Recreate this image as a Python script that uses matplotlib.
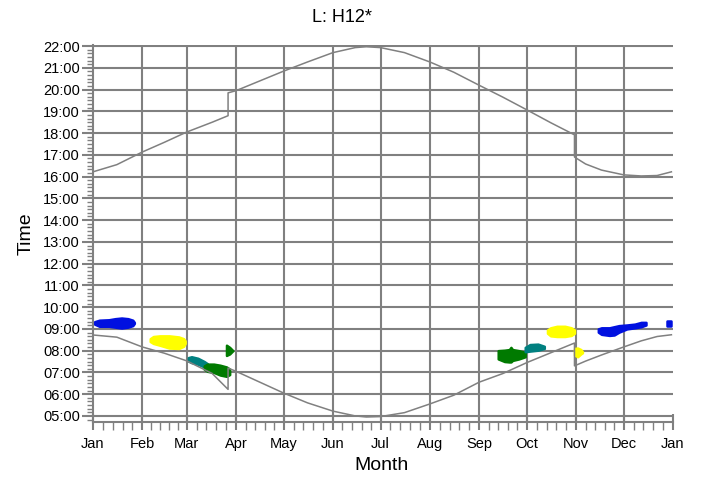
import matplotlib.pyplot as plt
from matplotlib.ticker import FixedLocator, NullFormatter

plt.rcParams['font.family'] = ['Liberation Sans', 'DejaVu Sans']

# ---------- DATA ----------
month_names = ["Jan", "Feb", "Mar", "Apr", "May", "Jun",
               "Jul", "Aug", "Sep", "Oct", "Nov", "Dec", "Jan"]
month_starts = [0, 31, 59, 90, 120, 151, 181, 212, 243, 273, 304, 334, 365]
hours = list(range(5, 23))

# sunrise / sunset (day of year, hour) incl. DST jumps
rise_days = [0, 15, 31, 45, 59, 75, 85, 85, 90, 105, 120, 135, 151, 165, 172,
             181, 196, 212, 227, 243, 258, 273, 288, 303, 303, 310, 320, 334,
             345, 355, 364]
rise_hours = [8.72, 8.62, 8.17, 7.88, 7.53, 6.95, 6.22, 7.20, 7.05, 6.55, 6.05,
              5.60, 5.22, 5.00, 4.95, 4.97, 5.15, 5.55, 5.95, 6.55, 6.95, 7.45,
              7.90, 8.35, 7.30, 7.52, 7.80, 8.17, 8.45, 8.65, 8.73]

set_days = [0, 15, 31, 45, 59, 75, 85, 85, 90, 105, 120, 135, 151, 165, 172,
            181, 196, 212, 227, 243, 258, 273, 288, 303, 303, 310, 320, 334,
            345, 355, 364]
set_hours = [16.22, 16.55, 17.13, 17.58, 18.05, 18.50, 18.80, 19.85, 19.95,
             20.40, 20.85, 21.27, 21.70, 21.93, 21.97, 21.93, 21.70, 21.27,
             20.80, 20.20, 19.65, 19.07, 18.48, 17.92, 16.90, 16.58, 16.30,
             16.08, 16.03, 16.05, 16.22]

# glare periods: day of year, upper and lower hour
blue1_days = [1, 4, 10, 14, 18, 22, 25, 26]
blue1_top = [9.33, 9.40, 9.42, 9.47, 9.50, 9.47, 9.40, 9.30]
blue1_bot = [9.22, 9.12, 9.12, 9.08, 9.04, 9.08, 9.15, 9.25]

yellow1_days = [36, 38, 42, 48, 54, 57, 58]
yellow1_top = [8.55, 8.65, 8.68, 8.68, 8.63, 8.55, 8.45]
yellow1_bot = [8.42, 8.33, 8.25, 8.12, 8.10, 8.20, 8.33]

teal1_days = [60, 62, 66, 70, 72]
teal1_top = [7.68, 7.72, 7.65, 7.50, 7.40]
teal1_bot = [7.52, 7.45, 7.38, 7.25, 7.30]

green1_days = [70, 72, 76, 80, 84, 86]
green1_top = [7.30, 7.38, 7.38, 7.33, 7.25, 7.15]
green1_bot = [7.15, 7.05, 7.00, 6.88, 6.82, 6.90]

green2_days = [84, 86, 88]
green2_top = [8.25, 8.15, 8.00]
green2_bot = [7.78, 7.85, 8.00]

green3_days = [255, 259, 262, 263, 264, 268, 272]
green3_top = [8.00, 8.02, 8.05, 8.15, 8.05, 8.00, 7.92]
green3_bot = [7.62, 7.50, 7.48, 7.48, 7.55, 7.62, 7.72]

teal2_days = [272, 275, 280, 284]
teal2_top = [8.15, 8.28, 8.30, 8.20]
teal2_bot = [7.95, 7.98, 8.02, 8.10]

yellow2_days = [286, 288, 292, 297, 301, 303]
yellow2_top = [8.95, 9.05, 9.12, 9.12, 9.05, 8.95]
yellow2_bot = [8.80, 8.68, 8.65, 8.65, 8.70, 8.80]

yellow3_days = [303, 305, 307, 308]
yellow3_top = [8.10, 8.12, 8.05, 7.95]
yellow3_bot = [7.80, 7.72, 7.85, 7.90]

blue2_days = [318, 320, 325, 328, 331, 336, 341, 345, 348]
blue2_top = [9.00, 9.05, 9.05, 9.10, 9.15, 9.18, 9.22, 9.30, 9.30]
blue2_bot = [8.85, 8.75, 8.70, 8.72, 8.85, 9.00, 9.05, 9.10, 9.18]

blue3_days = [361, 364]
blue3_top = [9.38, 9.38]
blue3_bot = [9.15, 9.15]

BLUE, YELLOW, TEAL, GREEN = "#0010e0", "#ffff00", "#008080", "#007a00"
glare = [
    (BLUE, blue1_days, blue1_top, blue1_bot),
    (YELLOW, yellow1_days, yellow1_top, yellow1_bot),
    (TEAL, teal1_days, teal1_top, teal1_bot),
    (GREEN, green1_days, green1_top, green1_bot),
    (GREEN, green2_days, green2_top, green2_bot),
    (GREEN, green3_days, green3_top, green3_bot),
    (TEAL, teal2_days, teal2_top, teal2_bot),
    (YELLOW, yellow2_days, yellow2_top, yellow2_bot),
    (YELLOW, yellow3_days, yellow3_top, yellow3_bot),
    (BLUE, blue2_days, blue2_top, blue2_bot),
    (BLUE, blue3_days, blue3_top, blue3_bot),
]

# ---------- PLOT ----------
GREY = "#808080"
fig = plt.figure(figsize=(7.01, 4.78), dpi=100)
ax = fig.add_axes([93 / 701, 1 - 422 / 478, 580 / 701, 377 / 478])
ax.set_xlim(0, 365)
ax.set_ylim(4.72, 22.05)

# grid
for h in hours:
    ax.axhline(h, color=GREY, linewidth=1.5, zorder=1)
for d in month_starts[1:-1]:
    ax.axvline(d, color=GREY, linewidth=1.5, zorder=1)

# glare blobs
for color, d, top, bot in glare:
    ax.fill_between(d, bot, top, color=color, linewidth=1.8, edgecolor=color,
                    zorder=2)

# sunrise / sunset
ax.plot(rise_days, rise_hours, color=GREY, linewidth=1.1, zorder=3)
ax.plot(set_days, set_hours, color=GREY, linewidth=1.1, zorder=3)

# spines
for s in ["top", "right"]:
    ax.spines[s].set_visible(False)
for s in ["left", "bottom"]:
    ax.spines[s].set_color(GREY)
    ax.spines[s].set_linewidth(1.5)

# ticks
ax.yaxis.set_major_locator(FixedLocator(hours))
ax.set_yticklabels([f"{h:02d}:00" for h in hours])
ax.yaxis.set_minor_locator(FixedLocator([h + m / 60 for h in range(4, 22)
                                         for m in range(10, 60, 10)
                                         if h + m / 60 > 4.72]))
ax.xaxis.set_major_locator(FixedLocator(month_starts))
ax.set_xticklabels(month_names)
ax.xaxis.set_minor_locator(FixedLocator(
    [a + (b - a) * k / 5 for a, b in zip(month_starts[:-1], month_starts[1:])
     for k in range(1, 5)]))
ax.xaxis.set_minor_formatter(NullFormatter())

ax.tick_params(axis="y", which="major", direction="out", length=8, width=1.5,
               color=GREY, labelsize=10.5, pad=1.5)
ax.tick_params(axis="y", which="minor", direction="out", length=4.5, width=1,
               color=GREY)
ax.tick_params(axis="x", which="major", direction="inout", length=11,
               width=1.5, color=GREY, labelsize=10.5, pad=5)
ax.tick_params(axis="x", which="minor", direction="out", length=5.5, width=1,
               color=GREY)

# labels
ax.set_ylabel("Time", fontsize=14)
ax.yaxis.set_label_coords(-0.100, 0.5)
ax.set_xlabel("Month", fontsize=14)
ax.xaxis.set_label_coords(0.497, -0.093)
fig.text(342 / 701, 1 - 17 / 478, "L: H12*", fontsize=13,
         ha="center", va="center")

fig.savefig("out.png", dpi=100, facecolor="white")
